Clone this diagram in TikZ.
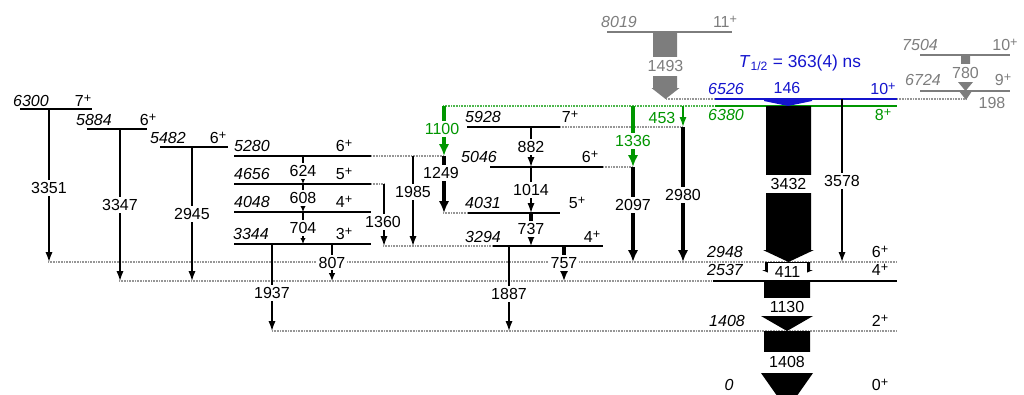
\documentclass[tikz,border=0pt]{standalone}
\usepackage{fontspec}
\setmainfont{Liberation Sans}
\usetikzlibrary{arrows.meta}
\definecolor{cblue}{RGB}{20,20,205}
\definecolor{cgreen}{RGB}{0,150,0}
\definecolor{cgrey}{RGB}{125,125,125}
\definecolor{cdot}{RGB}{150,150,150}
\newcommand\gtr[5]{%
  \coordinate (#2a) at (#3,#4);
  \coordinate (#2b) at (#3,#5);
  \draw[#1] (#2a) -- (#2b);}
\newcommand\sps[1]{#1\raisebox{3.2pt}{\fontsize{9.5pt}{10pt}\selectfont +}}
\begin{document}
\begin{tikzpicture}[x=0.75pt,y=-0.75pt,
  every node/.style={font=\fontsize{12pt}{14pt}\selectfont, inner sep=0pt},
  lev/.style={line width=1.05pt},
  dlev/.style={line width=0.85pt, cdot, dash pattern=on 0.75pt off 0.45pt},
  dgreen/.style={line width=0.85pt, cgreen!70, dash pattern=on 0.75pt off 0.45pt},
  glev/.style={line width=1.05pt, cgrey},
  en/.style={anchor=base, font=\fontsize{12pt}{14pt}\selectfont\itshape},
  sp/.style={anchor=base},
  tlab/.style={fill=white, inner xsep=1pt, inner ysep=1.5pt},
  thinar/.style={line width=1.05pt, -{Latex[length=7.5pt,width=5.4pt]}},
  thickar/.style={line width=2.3pt, -{Latex[length=9pt,width=7.8pt]}},
  tinyar/.style={line width=1pt, -{Latex[length=4.5pt,width=4pt]}},
  midar/.style={line width=1.05pt, -{Latex[length=6pt,width=5pt]}},
  wlab/.style={fill=white, minimum width=37pt, minimum height=13.5pt, inner sep=0pt},
]
\useasboundingbox (0,0) rectangle (1024,394);
\clip (0,0) rectangle (1024,394);

% ---------------- levels ----------------
\draw[lev] (20,109) -- (92,109);
\draw[lev] (87,129) -- (147,129);
\draw[lev] (160,147) -- (228,147);
\draw[lev] (234,156) -- (371,156); \draw[dlev] (371,156) -- (444,156);
\draw[lev] (234,184) -- (371,184); \draw[dlev] (371,184) -- (384,184);
\draw[lev] (234,212) -- (371,212);
\draw[lev] (234,244) -- (371,244);
\draw[lev] (467,127) -- (560,127); \draw[dlev] (560,127) -- (683,127);
\draw[lev] (490,167) -- (603,167); \draw[dlev] (603,167) -- (633,167);
\draw[dlev] (443,213) -- (468,213); \draw[lev] (468,213) -- (560,213);
\draw[dlev] (383,246) -- (493,246); \draw[lev] (493,246) -- (603,246);
\draw[dlev] (48,262) -- (897,262);
\draw[dlev] (119,281) -- (713,281); \draw[lev] (713,281) -- (897,281);
\draw[dlev] (272,331) -- (897,331);
\draw[glev] (607,32) -- (732,32);
\draw[glev] (920,55) -- (1010,55);
\draw[glev] (920,91) -- (1010,91);
\draw[dlev] (666,99) -- (715,99); \draw[lev,cblue] (715,99) -- (897,99); \draw[dlev] (897,99) -- (966,99);
\draw[dgreen] (443,106) -- (715,106); \draw[lev,cgreen] (715,106) -- (897,106);

% ---------------- level labels ----------------
\node[en] (e6300) at (31,106.5) {6300};  \node[sp] (s6300) at (83,106.5) {\sps{7}};
\node[en] (e5884) at (94,125.5) {5884};  \node[sp] (s5884) at (148,125.5) {\sps{6}};
\node[en] (e5482) at (168,143.5) {5482}; \node[sp] (s5482) at (218,143.5) {\sps{6}};
\node[en] (e5280) at (252,151.5) {5280}; \node[sp] (s5280) at (344,151.5) {\sps{6}};
\node[en] (e4656) at (252,179.5) {4656}; \node[sp] (s4656) at (344,179.5) {\sps{5}};
\node[en] (e4048) at (252,207.5) {4048}; \node[sp] (s4048) at (344,207.5) {\sps{4}};
\node[en] (e3344) at (251,239.5) {3344}; \node[sp] (s3344) at (344,239.5) {\sps{3}};
\node[en] (e5928) at (483,122.5) {5928}; \node[sp] (s5928) at (570,122.5) {\sps{7}};
\node[en] (e5046) at (479,162.5) {5046}; \node[sp] (s5046) at (590,162.5) {\sps{6}};
\node[en] (e4031) at (483,208.5) {4031}; \node[sp] (s4031) at (577,208.5) {\sps{5}};
\node[en] (e3294) at (483,242.5) {3294}; \node[sp] (s3294) at (592,242.5) {\sps{4}};
\node[en,cgrey] (e8019) at (619,27.5) {8019}; \node[sp,cgrey] (s8019) at (725,27.5) {\sps{11}};
\node[en,cgrey] (e7504) at (920,50.5) {7504}; \node[sp,cgrey] (s7504) at (1005,50.5) {\sps{10}};
\node[en,cgrey] (e6724) at (923,85.5) {6724}; \node[sp,cgrey] (s6724) at (1003,85.5) {\sps{9}};
\node[en,cblue] (e6526) at (726,94.5) {6526}; \node[sp,cblue] (s6526) at (883,94.5) {\sps{10}};
\node[en,cgreen] (e6380) at (726,120.5) {6380}; \node[sp,cgreen] (s6380) at (883,120.5) {\sps{8}};
\node[en] (e2948) at (725,257.5) {2948}; \node[sp] (s2948) at (880,257.5) {\sps{6}};
\node[en] (e2537) at (725,275.5) {2537}; \node[sp] (s2537) at (880,275.5) {\sps{4}};
\node[en] (e1408) at (727,326.5) {1408}; \node[sp] (s1408) at (880,326.5) {\sps{2}};
\node[en] (e0) at (729,390.5) {0}; \node[sp] (s0) at (880,390.5) {\sps{0}};

\node[text=cblue, font=\fontsize{13pt}{15pt}\selectfont] (thalf) at (800,63) {\textit{T}\textsubscript{1/2} = 363(4) ns};

% ---------------- wide arrows ----------------
\fill[cgrey] (653,32) -- (677,32) -- (677,88) -- (679.5,88) -- (665.5,99) -- (651.5,88) -- (653,88) -- cycle;
\fill[cgrey] (961,55) -- (970,55) -- (970,82) -- (973,82) -- (965.5,91) -- (958,82) -- (961,82) -- cycle;
\fill[cgrey] (959,91) -- (972,91) -- (966,100) -- cycle;
\fill[cblue] (764,98.5) -- (812,98.5) -- (812,101) -- (788,106) -- (764,101) -- cycle;
\fill (766,106) -- (811,106) -- (811,250) -- (814,250) -- (788.5,262) -- (763,250) -- (766,250) -- cycle;
\fill (765,262) -- (810,262) -- (810,270) -- (813,270) -- (787.5,281) -- (762,270) -- (765,270) -- cycle;
\fill (764,281) -- (810,281) -- (810,316) -- (813,316) -- (787,331) -- (761,316) -- (764,316) -- cycle;
\fill (764,331) -- (810,331) -- (810,373) -- (813,373) -- (787,410) -- (761,373) -- (764,373) -- cycle;

% ---------------- line transitions ----------------
\gtr{thinar}{g3351}{49}{109}{262}
\gtr{thinar}{g3347}{120}{129}{281}
\gtr{thinar}{g2945}{192}{147}{281}
\gtr{tinyar}{g624}{303}{156}{184}
\gtr{tinyar}{g608}{303}{184}{212}
\gtr{tinyar}{g704}{303}{212}{244}
\gtr{midar}{g807}{332}{244}{281}
\gtr{thinar}{g1937}{272}{244}{331}
\gtr{thinar}{g1360}{384}{184}{246}
\gtr{thinar}{g1985}{413}{156}{246}
\gtr{thickar}{g1249}{444}{156}{213}
\gtr{thickar,cgreen}{g1100}{444}{106}{156}
\gtr{thinar}{g882}{531}{127}{167}
\gtr{thinar}{g1014}{531}{167}{213}
\gtr{thickar}{g737}{531}{213}{246}
\gtr{thickar}{g757}{564}{246}{281}
\gtr{thinar}{g1887}{509}{246}{331}
\gtr{thickar,cgreen}{g1336}{633}{106}{167}
\gtr{thickar}{g2097}{633}{167}{262}
\gtr{thinar,cgreen,line width=1.3pt}{g453}{683}{106}{127}
\gtr{thickar}{g2980}{683}{127}{262}
\gtr{thinar}{g3578}{842}{99}{262}

% ---------------- transition labels ----------------
\node[tlab] (l3351) at (49,188) {3351};
\node[tlab] (l3347) at (120,205) {3347};
\node[tlab] (l2945) at (192,214) {2945};
\node[tlab] (l624) at (303,171) {624};
\node[tlab] (l608) at (303,198) {608};
\node[tlab] (l704) at (303,228) {704};
\node[tlab] (l807) at (332,262.5) {807};
\node[tlab] (l1937) at (272,293) {1937};
\node[tlab] (l1360) at (383,222) {1360};
\node[tlab] (l1985) at (413,192) {1985};
\node[tlab] (l1249) at (441,173) {1249};
\node[tlab,text=cgreen] (l1100) at (442,129) {1100};
\node[tlab] (l882) at (531,147) {882};
\node[tlab] (l1014) at (531,190) {1014};
\node[tlab] (l737) at (531,229) {737};
\node[tlab] (l757) at (564,263) {757};
\node[tlab] (l1887) at (509,294) {1887};
\node[tlab,text=cgreen] (l1336) at (633,141) {1336};
\node[tlab] (l2097) at (633,205) {2097};
\node[tlab,text=cgreen] (l453) at (662,118) {453};
\node[tlab] (l2980) at (683,195) {2980};
\node[tlab] (l3578) at (842,181) {3578};
\node[wlab] (l3432) at (788.5,184) {3432};
\node[wlab, minimum width=29pt, minimum height=12.75pt] (l411) at (787.5,271.5) {411};
\node[wlab] (l1130) at (787,307) {1130};
\node[wlab, minimum height=15.75pt] (l1408) at (787,362) {1408};
\node[wlab, minimum width=0pt, inner xsep=1pt, minimum height=14.25pt, text=cgrey] (l1493) at (665.5,66) {1493};
\node[wlab, minimum width=0pt, inner xsep=1pt, text=cgrey] (l780) at (965.5,73) {780};
\node[text=cgrey] (l198) at (992,103) {198};
\node[text=cblue] (l146) at (787,88) {146};
\end{tikzpicture}
\end{document}
